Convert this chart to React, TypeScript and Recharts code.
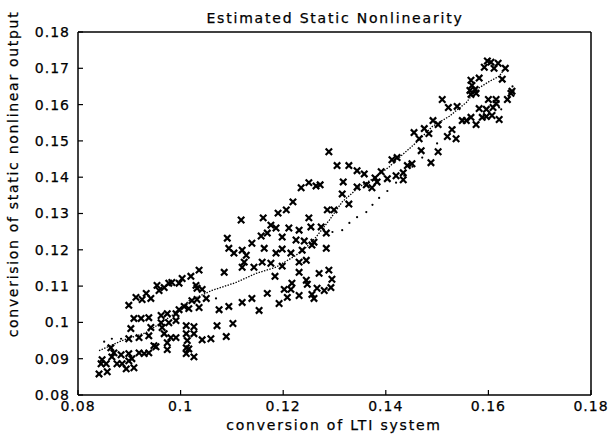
import { Scatter, ScatterChart, XAxis, YAxis } from 'recharts';

type Pt = [number, number];

const TITLE = 'Estimated Static Nonlinearity';
const X_LABEL = 'conversion of LTI system';
const Y_LABEL = 'converision of static nonlinear output';

const X_TICKS = [0.08, 0.1, 0.12, 0.14, 0.16, 0.18];
const Y_TICKS = [0.08, 0.09, 0.1, 0.11, 0.12, 0.13, 0.14, 0.15, 0.16, 0.17, 0.18];

// measured samples, lower-left part of the cloud
const crossesLow: Pt[] = [
  [0.1118, 0.1282], [0.1091, 0.1232], [0.1094, 0.1204], [0.1104, 0.1191], [0.112, 0.1199],
  [0.1128, 0.1185], [0.1124, 0.1166], [0.112, 0.1152], [0.1036, 0.1144], [0.1085, 0.1138],
  [0.102, 0.1127], [0.1003, 0.1121], [0.0983, 0.111], [0.0997, 0.1108], [0.0968, 0.1096],
  [0.0954, 0.1102], [0.0977, 0.1108], [0.0958, 0.1088], [0.0933, 0.108], [0.103, 0.1102],
  [0.1032, 0.1094], [0.1042, 0.1091], [0.0913, 0.1069], [0.0925, 0.1063], [0.0942, 0.1066],
  [0.0899, 0.1047], [0.1022, 0.106], [0.1032, 0.1063], [0.105, 0.1066], [0.1036, 0.1041],
  [0.1075, 0.1035], [0.1094, 0.1044], [0.112, 0.1055], [0.0997, 0.1035], [0.1007, 0.1044],
  [0.1016, 0.1038], [0.0909, 0.1011], [0.0923, 0.1011], [0.0938, 0.1013], [0.0962, 0.1019],
  [0.0974, 0.1024], [0.0991, 0.1024], [0.0962, 0.0999], [0.0977, 0.0999], [0.0991, 0.1005],
  [0.0903, 0.0983], [0.0942, 0.0986], [0.0964, 0.0986], [0.0968, 0.0969], [0.1011, 0.0991],
  [0.1026, 0.0988], [0.1011, 0.0969], [0.1026, 0.0969], [0.0981, 0.0958], [0.0991, 0.0958],
  [0.1042, 0.0952], [0.1059, 0.0955], [0.1071, 0.0991], [0.1102, 0.0997], [0.1089, 0.0961],
  [0.0899, 0.0955], [0.0919, 0.0958], [0.0938, 0.0963], [0.0948, 0.0936], [0.0952, 0.0933],
  [0.0974, 0.0944], [0.1013, 0.095], [0.1011, 0.093], [0.1016, 0.0927], [0.1011, 0.0914],
  [0.1026, 0.0905], [0.0974, 0.0925], [0.0864, 0.093], [0.087, 0.0916], [0.0884, 0.0911],
  [0.0866, 0.0905], [0.0899, 0.0914], [0.0919, 0.0916], [0.0929, 0.0914], [0.0938, 0.0916],
  [0.0847, 0.0897], [0.0845, 0.0886], [0.0855, 0.0886], [0.0876, 0.0886], [0.0886, 0.0886],
  [0.0899, 0.0894], [0.0905, 0.09], [0.0894, 0.0872], [0.0909, 0.0875], [0.0841, 0.0858],
  [0.0857, 0.0864],
];

const crossesMid: Pt[] = [
  [0.1289, 0.147], [0.1305, 0.1432], [0.1328, 0.1432], [0.1344, 0.1418], [0.1358, 0.1409],
  [0.1391, 0.1415], [0.1412, 0.1448], [0.1422, 0.1454], [0.142, 0.1404], [0.1403, 0.1396],
  [0.1383, 0.1387], [0.1379, 0.1398], [0.1373, 0.1371], [0.1362, 0.1379], [0.1344, 0.1373],
  [0.1317, 0.1387], [0.1315, 0.1354], [0.1328, 0.1326], [0.1286, 0.131], [0.1299, 0.131],
  [0.1272, 0.1379], [0.125, 0.1385], [0.1235, 0.1371], [0.1264, 0.1376], [0.1219, 0.1332],
  [0.1206, 0.131], [0.119, 0.1301], [0.1161, 0.1288], [0.125, 0.1288], [0.1274, 0.1263],
  [0.1284, 0.1246], [0.1254, 0.1263], [0.1231, 0.1254], [0.1211, 0.126], [0.1186, 0.126],
  [0.1176, 0.1268], [0.1198, 0.1235], [0.1157, 0.1238], [0.1169, 0.1246], [0.1225, 0.1227],
  [0.1241, 0.1224], [0.126, 0.1221], [0.1139, 0.1218], [0.1163, 0.1204], [0.1186, 0.1191],
  [0.1198, 0.1202], [0.1215, 0.1191], [0.1237, 0.1199], [0.1284, 0.1204], [0.1256, 0.1213],
  [0.1143, 0.1152], [0.1159, 0.1166], [0.1176, 0.1163], [0.1198, 0.1155], [0.1231, 0.1166],
  [0.1245, 0.1171], [0.1184, 0.1127], [0.1231, 0.1138], [0.127, 0.1135], [0.1289, 0.1144],
  [0.1295, 0.1119], [0.1245, 0.1116], [0.1247, 0.1105], [0.1217, 0.1108], [0.1202, 0.1091],
  [0.1215, 0.1091], [0.1293, 0.1096], [0.128, 0.1088], [0.1266, 0.1094], [0.1231, 0.1074],
  [0.1256, 0.1077], [0.126, 0.1066], [0.1208, 0.1069], [0.1192, 0.1052], [0.1169, 0.108],
  [0.1139, 0.1066], [0.1153, 0.1033],
];

const crossesHigh: Pt[] = [
  [0.1598, 0.172], [0.1605, 0.1717], [0.1619, 0.1714], [0.1592, 0.1703], [0.1611, 0.17],
  [0.1633, 0.17], [0.1627, 0.167], [0.1582, 0.1673], [0.1566, 0.1667], [0.1568, 0.1653],
  [0.1564, 0.1639], [0.1574, 0.1642], [0.1566, 0.1628], [0.1576, 0.1631], [0.151, 0.1614],
  [0.16, 0.1614], [0.1615, 0.1614], [0.1615, 0.1603], [0.1646, 0.1637], [0.1644, 0.1631],
  [0.1637, 0.1614], [0.1522, 0.1592], [0.1539, 0.1595], [0.1582, 0.1589], [0.1596, 0.1587],
  [0.1609, 0.1592], [0.1492, 0.1556], [0.1502, 0.1545], [0.1549, 0.1556], [0.1557, 0.1556],
  [0.1566, 0.1565], [0.1576, 0.1545], [0.1588, 0.1565], [0.1596, 0.1567], [0.1607, 0.157],
  [0.1621, 0.1559], [0.1529, 0.1531], [0.1475, 0.1534], [0.1455, 0.1523], [0.1484, 0.152],
  [0.1465, 0.1506], [0.152, 0.1512], [0.1537, 0.1506], [0.1469, 0.1473], [0.1502, 0.147],
  [0.1488, 0.144], [0.1451, 0.1437], [0.1442, 0.1432], [0.1434, 0.1412], [0.1434, 0.1393],
];

// estimated nonlinearity, dense dotted trace
const curveMain: Pt[] = [
  [0.0841, 0.0922], [0.0886, 0.095], [0.0933, 0.0972], [0.0983, 0.1019], [0.1017, 0.106],
  [0.1061, 0.1088], [0.1108, 0.111], [0.1147, 0.1135], [0.1186, 0.1152], [0.1225, 0.1185],
  [0.1245, 0.1207], [0.1264, 0.1235], [0.129, 0.1282], [0.1315, 0.1332], [0.1348, 0.1373],
  [0.1381, 0.1401], [0.1407, 0.1429], [0.1426, 0.1454], [0.1459, 0.1495], [0.1491, 0.154],
  [0.1524, 0.1568], [0.1557, 0.1606], [0.1577, 0.1642], [0.1602, 0.1664], [0.1621, 0.1678],
  [0.1635, 0.1706],
];

// loose dots beside the trace
const curveSparse: Pt[] = [
  [0.0851, 0.0947], [0.0866, 0.0955], [0.0884, 0.0955], [0.1069, 0.1066], [0.1296, 0.1249],
  [0.1315, 0.1254], [0.1329, 0.1274], [0.1344, 0.129], [0.1362, 0.1304], [0.1374, 0.1324],
  [0.1387, 0.1343], [0.1403, 0.1362], [0.142, 0.1385], [0.1436, 0.1404], [0.1452, 0.1429],
  [0.1471, 0.1454], [0.15, 0.1493], [0.1534, 0.1537], [0.1549, 0.1559], [0.1621, 0.1592],
  [0.1625, 0.1587], [0.1637, 0.1614], [0.1647, 0.165],
];

const toRows = (pts: Pt[]) => pts.map(([x, y]) => ({ x, y }));

const FONT = '"DejaVu Sans", Arial, sans-serif';
const INK = '#000';

const fmt = (v: number) => String(Number(v.toFixed(2)));

const Cross = (props: { cx?: number; cy?: number }) => {
  const { cx = 0, cy = 0 } = props;
  const h = 3.2;
  return (
    <path
      d={`M${cx - h},${cy - h}L${cx + h},${cy + h}M${cx - h},${cy + h}L${cx + h},${cy - h}`}
      stroke={INK}
      strokeWidth={2.2}
      fill="none"
    />
  );
};

const Dot = (props: { cx?: number; cy?: number }) => (
  <circle cx={props.cx} cy={props.cy} r={1.1} fill={INK} />
);

const Nothing = () => <g />;

const tickStyle = { fill: INK, stroke: INK, strokeWidth: 0.25, fontSize: 14, fontFamily: FONT, letterSpacing: 1 };
const frame = { stroke: INK, strokeWidth: 1.5 };
const tickMark = { stroke: INK, strokeWidth: 1.2 };

const App = () => {
  const crosses = toRows([...crossesLow, ...crossesMid, ...crossesHigh]);
  return (
    <div style={{ position: 'absolute', left: 0, top: 0, width: 612, height: 435, background: '#fff' }}>
      <ScatterChart width={612} height={435} margin={{ top: 31, right: 20, bottom: 0, left: 0 }}>
        <XAxis
          dataKey="x"
          type="number"
          domain={[0.08, 0.18]}
          ticks={X_TICKS}
          tickFormatter={fmt}
          allowDataOverflow
          height={40}
          tickSize={-5}
          tickMargin={11}
          axisLine={frame}
          tickLine={tickMark}
          tick={tickStyle}
          interval={0}
        />
        <XAxis
          xAxisId="top"
          orientation="top"
          type="number"
          domain={[0.08, 0.18]}
          ticks={X_TICKS}
          allowDataOverflow
          height={1}
          tickSize={-5}
          axisLine={frame}
          tickLine={tickMark}
          tick={false}
        />
        <YAxis
          dataKey="y"
          type="number"
          domain={[0.08, 0.18]}
          ticks={Y_TICKS}
          tickFormatter={fmt}
          allowDataOverflow
          width={78}
          tickSize={-5}
          tickMargin={13}
          axisLine={frame}
          tickLine={tickMark}
          tick={tickStyle}
          interval={0}
        />
        <YAxis
          yAxisId="right"
          orientation="right"
          type="number"
          domain={[0.08, 0.18]}
          ticks={Y_TICKS}
          allowDataOverflow
          width={1}
          tickSize={-5}
          axisLine={frame}
          tickLine={tickMark}
          tick={false}
        />
        <Scatter
          data={toRows(curveMain)}
          line={{ stroke: INK, strokeWidth: 1.3, strokeDasharray: '1.4 1.4' }}
          shape={<Nothing />}
          isAnimationActive={false}
        />
        <Scatter data={toRows(curveSparse)} shape={<Dot />} isAnimationActive={false} />
        <Scatter data={crosses} shape={<Cross />} isAnimationActive={false} />
      </ScatterChart>
      <svg
        width={612}
        height={435}
        style={{ position: 'absolute', left: 0, top: 0, pointerEvents: 'none' }}
        fontFamily={FONT}
        fontSize={14}
        fill={INK}
        stroke={INK}
        strokeWidth={0.25}
      >
        <text x={335} y={23} textAnchor="middle" letterSpacing={1.8}>
          {TITLE}
        </text>
        <text x={334} y={430} textAnchor="middle" letterSpacing={1.8}>
          {X_LABEL}
        </text>
        <text x={18} y={174} textAnchor="middle" letterSpacing={1.7} transform="rotate(-90 18 174)">
          {Y_LABEL}
        </text>
      </svg>
    </div>
  );
};

export default App;
